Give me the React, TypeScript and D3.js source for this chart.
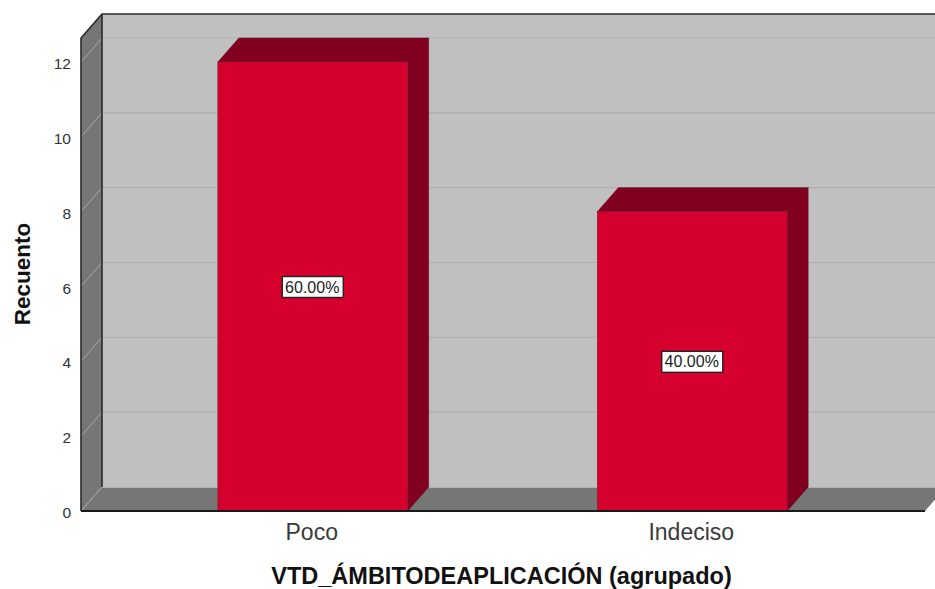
import React from "react";
import * as d3 from "d3";

const categories = ["Poco", "Indeciso"];
const counts = [12, 8];
const percentLabels = ["60.00%", "40.00%"];
const yTicks = [0, 2, 4, 6, 8, 10, 12];
const yAxisTitle = "Recuento";
const xAxisTitle = "VTD_ÁMBITODEAPLICACIÓN (agrupado)";

const W = 935, H = 589;
const dx = 21, dy = -24;
const FONT = "Liberation Sans, Arial, sans-serif";
const y = d3.scaleLinear().domain([0, 12]).range([511, 62]);
const yMax = 12.64;
const x = d3.scaleBand<string>().domain(categories).range([80.5, 924.5]).paddingInner(0.5).paddingOuter(0.362);

const poly = (pts: [number, number][]) => pts.map((p) => p.join(",")).join(" ");

export default function App() {
  const L = 81, R = 925, B = y(0), T = y(yMax);
  return (
    <svg width={W} height={H} viewBox={`0 0 ${W} ${H}`} style={{ position: "absolute", left: 0, top: 0, background: "#fff" }}>
      {/* back wall */}
      <rect x={L + dx} y={T + dy} width={R - L} height={B - T} fill="#c0c0c0" />
      {/* left wall */}
      <polygon points={poly([[L, B], [L, T], [L + dx, T + dy], [L + dx, B + dy]])} fill="#767676" />
      {/* floor */}
      <polygon points={poly([[L, B], [R, B], [R + dx, B + dy], [L + dx, B + dy]])} fill="#767676" />
      {/* gridlines */}
      {yTicks.map((t) => (
        <g key={t} fill="none">
          {t > 0 && <line x1={L + dx} x2={R + dx} y1={y(t) + dy} y2={y(t) + dy} stroke="#afafaf" strokeWidth={1.2} />}
          <line x1={L} x2={L + dx} y1={y(t)} y2={y(t) + dy} stroke="#a6a6a6" strokeWidth={1} />
        </g>
      ))}
      <line x1={L + dx} x2={R + dx} y1={B + dy + 0.5} y2={B + dy + 0.5} stroke="#afafaf" strokeWidth={1} />
      {/* frame */}
      <path
        d={`M${L},${B} L${L},${T} L${L + dx},${T + dy} L${R + dx},${T + dy} M${L + dx},${T + dy} L${L + dx},${B + dy}`}
        fill="none"
        stroke="#2a2a2a"
        strokeWidth={1.6}
      />
      {/* bars */}
      {categories.map((c, i) => {
        const x0 = x(c)!, x1 = x0 + x.bandwidth(), top = y(counts[i]);
        const cy = y(counts[i] / 2) + 1;
        const cx = x0 + x.bandwidth() / 2;
        return (
          <g key={c}>
            <polygon points={poly([[x0, top], [x0 + dx, top + dy], [x1 + dx, top + dy], [x1, top]])} fill="#82001f" stroke="#6a0a20" strokeWidth={0.6} />
            <polygon points={poly([[x1, top], [x1 + dx, top + dy], [x1 + dx, B + dy], [x1, B]])} fill="#82001f" stroke="#6a0a20" strokeWidth={0.6} />
            <rect x={x0} y={top} width={x.bandwidth()} height={B - top} fill="#d5002e" stroke="#8c1a35" strokeWidth={0.7} />
            <rect x={cx - 30.5} y={cy - 11} width={61} height={21} fill="#fff" stroke="#222" strokeWidth={1.4} />
            <text x={cx - 0.5} y={cy + 5} textAnchor="middle" fontFamily={FONT} fontSize={16} fill="#222">{percentLabels[i]}</text>
            <text x={cx - 1} y={540} textAnchor="middle" fontFamily={FONT} fontSize={23} fontWeight={300} fill="#3a3a3a">{c}</text>
          </g>
        );
      })}
      {/* baseline */}
      <line x1={L} x2={R} y1={B} y2={B} stroke="#1a1a1a" strokeWidth={1.8} />
      {/* y tick labels */}
      {yTicks.map((t) => (
        <text key={t} x={71} y={y(t) + 7} textAnchor="end" fontFamily={FONT} fontSize={15.5} fill="#333">{t}</text>
      ))}
      <text transform="translate(30,274) rotate(-90)" textAnchor="middle" fontFamily={FONT} fontSize={22.5} fontWeight="bold" fill="#111">{yAxisTitle}</text>
      <text x={501.5} y={584} textAnchor="middle" fontFamily={FONT} fontSize={23.5} fontWeight="bold" fill="#111">{xAxisTitle}</text>
    </svg>
  );
}
